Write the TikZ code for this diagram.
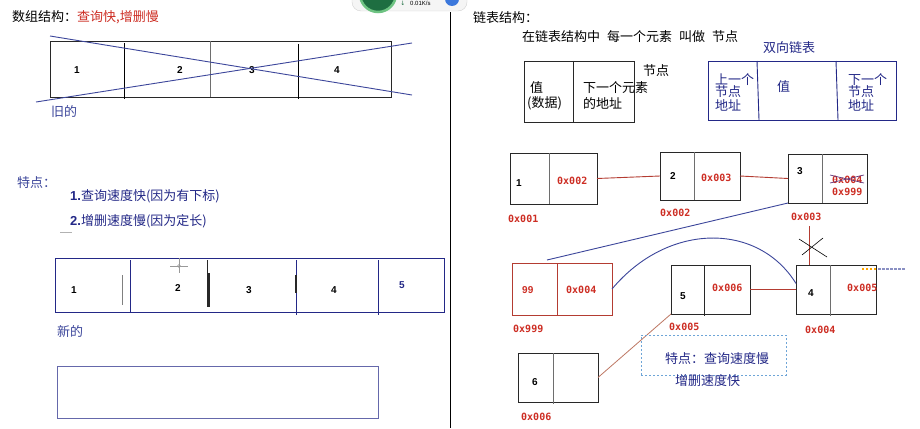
\documentclass[tikz,border=0pt]{standalone}
\usepackage{fontspec}
\setmainfont{Noto Sans CJK SC}
\newfontfamily\numf{Liberation Sans}
\newfontfamily\hexf{DejaVu Sans Mono}
\newfontfamily\symf{DejaVu Sans}
\usetikzlibrary{calc}
\definecolor{tred}{RGB}{205,45,35}
\definecolor{navy}{RGB}{35,40,135}
\definecolor{lblue}{RGB}{60,70,155}
\definecolor{boxgray}{RGB}{40,40,40}
\definecolor{divgray}{RGB}{110,110,110}
\definecolor{linkred}{RGB}{180,60,50}
\definecolor{linkbrown}{RGB}{190,120,100}
\definecolor{dashblue}{RGB}{110,165,215}
\definecolor{wgreen}{RGB}{30,110,65}
\definecolor{wrim}{RGB}{110,195,130}
\definecolor{wblue}{RGB}{60,120,220}
\tikzset{
  txt/.style={anchor=west, inner sep=0pt, font=\fontsize{13}{13}\selectfont},
  num/.style={anchor=west, inner sep=0pt, font=\numf\bfseries\fontsize{10}{10}\selectfont},
  hex/.style={anchor=west, inner sep=0pt, text=tred, font=\hexf\bfseries\fontsize{10}{10}\selectfont},
  cell/.style={draw=boxgray, line width=0.9pt, anchor=north west, inner sep=0pt, outer sep=0pt},
  div/.style={draw=divgray, line width=0.9pt},
}
\begin{document}
\begin{tikzpicture}[x=1pt,y=-1pt]
\useasboundingbox (0,0) rectangle (920,428);
\clip (0,0) rectangle (920,428);
\fill[white] (0,0) rectangle (920,428);

% ---------- top widget (screen overlay) ----------
\draw[rounded corners=9, fill=gray!8, draw=gray!35] (352,-20) rectangle (467,11);
\draw[line width=2.5pt, draw=wrim, fill=wgreen] (378,-6) circle (18);
\node[inner sep=0pt, font=\symf\fontsize{6}{6}\selectfont, text=wgreen] (warrow) at (403,3) {↓};
\node[anchor=west, inner sep=0pt, font=\numf\fontsize{6}{6}\selectfont] (wtxt) at (410,3) {0.01K/s};
\fill[wblue] (452,-1) circle (7);

% ---------- section divider ----------
\draw[black, line width=0.8pt] (450,12) -- (450,428);

% ---------- left: array ----------
\node[txt] (atitle) at (12,17) {数组结构：\textcolor{tred}{查询快,增删慢}};

\node[cell, minimum width=341, minimum height=56] (oldarr) at (50,41) {};
\draw[div, draw=black] (124,43) -- (124,99);
\draw[div] (210,41) -- (210,97);
\draw[div, draw=black] (298,44) -- (298,99);
\node[num] (o1) at (74,70) {1};
\node[num] (o2) at (177,70) {2};
\node[num] (o3) at (249,70) {3};
\node[num] (o4) at (334,70) {4};
\draw[lblue, line width=0.9pt] (50,36) -- (412,95);
\draw[lblue, line width=0.9pt] (36,102) -- (412,43);
\node[txt, text=lblue] (old) at (51,112) {旧的};

\node[txt, text=lblue] (feat) at (17,183) {特点：};
\node[txt, text=navy] (f1) at (70,196) {\numf\bfseries 1.\normalfont 查询速度快(因为有下标)};
\node[txt, text=navy] (f2) at (70,221) {\numf\bfseries 2.\normalfont 增删速度慢(因为定长)};
\draw[gray!60, line width=1pt] (60,232) -- (72,232);

\node[cell, draw=navy, minimum width=389, minimum height=54] (newarr) at (55,258) {};
\draw[div, draw=navy] (130,260) -- (130,312);
\draw[div, draw=boxgray] (207,260) -- (207,307);
\draw[div, draw=navy] (296,260) -- (296,315);
\draw[div, draw=navy] (378,260) -- (378,315);
\draw[gray, line width=1pt] (122,275) -- (122,305);
\draw[boxgray, line width=1.2pt] (209,273) -- (209,307);
\draw[boxgray, line width=1.2pt] (296,275) -- (296,293);
\draw[gray!80, line width=0.6pt] (170,266) -- (188,266) (179,258) -- (179,273);
\draw[gray!80, line width=0.6pt] (179,266) circle (1.5);
\node[num] (n_1) at (71,290) {1};
\node[num] (n_2) at (175,288) {2};
\node[num] (n_3) at (246,290) {3};
\node[num] (n_4) at (331,290) {4};
\node[num, text=navy] (n_5) at (399,285) {5};
\node[txt, text=lblue] (new) at (57,331) {新的};

\node[cell, draw=navy!70, line width=1pt, minimum width=321, minimum height=52] (empty) at (57,366) {};

% ---------- right: linked list ----------
\node[txt] (ltitle) at (473,18) {链表结构：};
\node[txt] (ldesc) at (522,37) {在链表结构中\hspace{7pt}每一个元素\hspace{7pt}叫做\hspace{7pt}节点};

\node[cell, minimum width=110, minimum height=61] (sn) at (524,61) {};
\draw[div, draw=boxgray] (573,61) -- (573,122);
\node[txt] (sv) at (530,88) {值};
\node[txt] (sd) at (527,103) {(数据)};
\node[txt] (sa1) at (583,88) {下一个元素};
\node[txt] (sa2) at (583,103) {的地址};
\node[txt] (snode) at (643,71) {节点};

\node[txt, text=navy] (dtitle) at (763,48) {双向链表};
\node[cell, draw=navy, minimum width=188, minimum height=59] (dn) at (708,61) {};
\draw[div, draw=navy] (757,61) -- (759,120);
\draw[div, draw=navy] (836,61) -- (838,120);
\node[txt, text=navy] (dp1) at (715,80) {上一个};
\node[txt, text=navy] (dp2) at (715,92) {节点};
\node[txt, text=navy] (dp3) at (715,105) {地址};
\node[txt, text=navy] (dv) at (777,87) {值};
\node[txt, text=navy] (dq1) at (848,80) {下一个};
\node[txt, text=navy] (dq2) at (848,92) {节点};
\node[txt, text=navy] (dq3) at (848,105) {地址};

% row 1
\node[cell, minimum width=87, minimum height=51] (n1) at (510,153) {};
\draw[div] (549,153) -- (549,204);
\node[num] (l1) at (516,183) {1};
\node[hex] (h1) at (557,181) {0x002};
\node[hex] (a1) at (508,219) {0x001};

\node[cell, minimum width=80, minimum height=48] (n2) at (660,152) {};
\draw[div] (694,152) -- (694,200);
\node[num] (l2) at (670,176) {2};
\node[hex] (h2) at (701,178) {0x003};
\node[hex] (a2) at (660,213) {0x002};

\node[cell, minimum width=79, minimum height=49] (n3) at (788,154) {};
\draw[div] (822,154) -- (822,203);
\node[num] (l3) at (797,171) {3};
\node[hex] (h3a) at (832,180) {0x004};
\node[hex] (h3b) at (832,192) {0x999};
\draw[lblue!80!red, line width=0.7pt] (830,175) -- (864,183) (830,183) -- (864,175);
\node[hex] (a3) at (791,217) {0x003};

% row 2
\node[cell, draw=linkred, minimum width=100, minimum height=52] (n99) at (512,263) {};
\draw[div, draw=linkred] (557,263) -- (557,315);
\node[num, text=tred] (l99) at (522,290) {99};
\node[hex] (h99) at (566,290) {0x004};
\node[hex] (a99) at (513,329) {0x999};

\node[cell, minimum width=79, minimum height=49] (n5) at (671,265) {};
\draw[div, draw=boxgray] (704,265) -- (704,316);
\node[num] (l5) at (680,296) {5};
\node[hex] (h5) at (712,288) {0x006};
\node[hex] (a5) at (669,327) {0x005};

\node[cell, minimum width=80, minimum height=49] (n4) at (796,265) {};
\draw[div] (830,265) -- (830,316);
\node[num] (l4) at (808,293) {4};
\node[hex] (h4) at (847,288) {0x005};
\node[hex] (a4) at (805,330) {0x004};

\node[cell, minimum width=80, minimum height=49] (n6) at (518,353) {};
\draw[div] (553,353) -- (553,404);
\node[num] (l6) at (532,382) {6};
\node[hex] (a6) at (521,417) {0x006};

% connectors
\draw[linkred, line width=0.9pt] (n1.east) -- (n2.west);
\draw[linkred, line width=0.9pt] (n2.east) -- (n3.west);
\draw[lblue, line width=0.9pt] (n3.south west) -- ($(n99.north west)+(35,-3)$);
\draw[lblue, line width=0.9pt] (n99.east) .. controls (668,222) and (758,222) .. ($(n4.west)+(0,-6)$);
\draw[linkred, line width=0.9pt] (n5.east) -- (n4.west);
\coordinate (cut) at (809,226);
\draw[linkred, line width=0.9pt] (cut) -- (cut |- n4.north);
\draw[black, line width=0.6pt] (799,239) -- (827,257) (802,255) -- (823,238);
\draw[linkbrown, line width=0.8pt] (n6.east) -- (n5.south west);
\draw[line width=1.2pt, dash pattern=on 2pt off 2pt, draw=orange!70!yellow] (862,269) -- (878,269);
\draw[line width=1.2pt, dash pattern=on 3pt off 1pt, draw=lblue!60] (878,269) -- (906,269);

% note box
\node[cell, draw=dashblue, line width=1pt, dash pattern=on 2pt off 2pt, minimum width=145, minimum height=40] (note) at (641,335) {};
\node[txt, text=navy] (note1) at (665,359) {特点：查询速度慢};
\node[txt, text=navy] (note2) at (675,381) {增删速度快};
\end{tikzpicture}
\end{document}
